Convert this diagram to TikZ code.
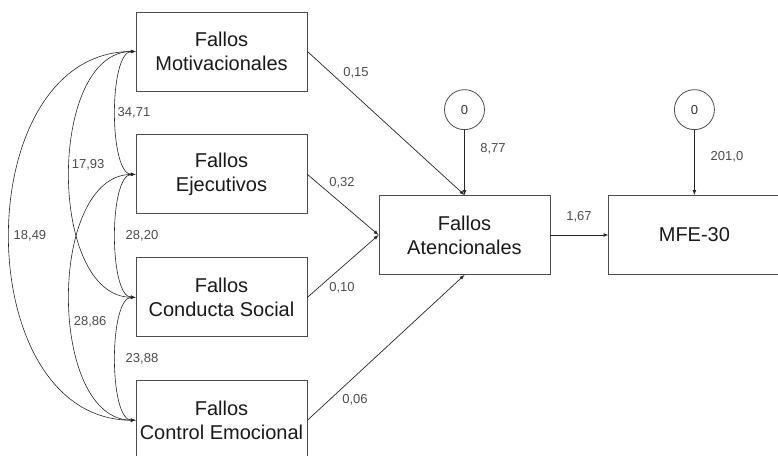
\documentclass[tikz,border=0pt]{standalone}
\usepackage{fontspec}
\setmainfont{Liberation Sans}
\usepackage{tikz}
\usetikzlibrary{positioning}
\tikzset{>=latex}
\tikzset{
  var/.style={draw=black!70, line width=0.9pt, minimum width=171pt, minimum height=79pt,
    inner sep=0pt, align=center, text=black!90, font=\fontsize{20}{24}\selectfont},
  err/.style={draw=black!70, line width=0.8pt, circle, minimum size=40pt, inner sep=0pt,
    text=black!80, font=\fontsize{13}{15}\selectfont},
  est/.style={inner sep=0pt, text=black!70, font=\fontsize{13}{15}\selectfont},
  link/.style={draw=black!85, line width=0.7pt, ->},
  cov/.style={draw=black!85, line width=0.6pt, <->}
}

\begin{document}
\begin{tikzpicture}[x=1pt, y=-1pt]
  \useasboundingbox (0,0) rectangle (778,455);
  \node[var] (fmot) at (221.5,51.5) {Fallos\\Motivacionales};
  \node[var, below=43pt of fmot] (feje) {Fallos\\Ejecutivos};
  \node[var, below=43pt of feje] (fcon) {Fallos\\Conducta Social};
  \node[var, below=43pt of fcon] (fctrl) {Fallos\\Control Emocional};
  \node[var] (faten) at (464.5,235) {Fallos\\Atencionales};
  \node[var, right=58pt of faten] (mfe) {MFE-30};
  \node[err, above=65pt of faten] (eaten) {0};
  \node[err, above=65pt of mfe] (emfe) {0};

  \path (fmot.east) edge[link] (faten.north);
  \path (feje.east) edge[link] (faten.west);
  \path (fcon.east) edge[link] (faten.west);
  \path (fctrl.east) edge[link] (faten.south);
  \path (faten) edge[link] (mfe);
  \path (eaten) edge[link] (faten);
  \path (emfe) edge[link] (mfe);

  \node[est] at (356,73) {0,15};
  \node[est] at (342,183) {0,32};
  \node[est] at (342,288) {0,10};
  \node[est] at (355,400) {0,06};
  \node[est] at (493,149) {8,77};
  \node[est] at (727,157) {201,0};
  \node[est] at (579,217) {1,67};

  % covarianzas
  \path (fmot.west) edge[cov, out=180, in=180, looseness=0.56]
    node[est, anchor=west, xshift=2pt] {34,71} (feje.west);
  \path (feje.west) edge[cov, out=180, in=180, looseness=0.56]
    node[est, anchor=west, xshift=10pt] {28,20} (fcon.west);
  \path (fcon.west) edge[cov, out=180, in=180, looseness=0.56]
    node[est, anchor=west, xshift=10pt] {23,88} (fctrl.west);
  \path (fmot.west) edge[cov, out=180, in=180, looseness=0.92]
    node[est, pos=0.475, anchor=west, xshift=2pt] {17,93} (fcon.west);
  \path (feje.west) edge[cov, out=180, in=180, looseness=0.92]
    node[est, pos=0.566, anchor=west, xshift=3pt] {28,86} (fctrl.west);
  \path (fmot.west) edge[cov, out=180, in=180, looseness=1.17]
    node[est, anchor=west, xshift=4pt] {18,49} (fctrl.west);
\end{tikzpicture}
\end{document}
